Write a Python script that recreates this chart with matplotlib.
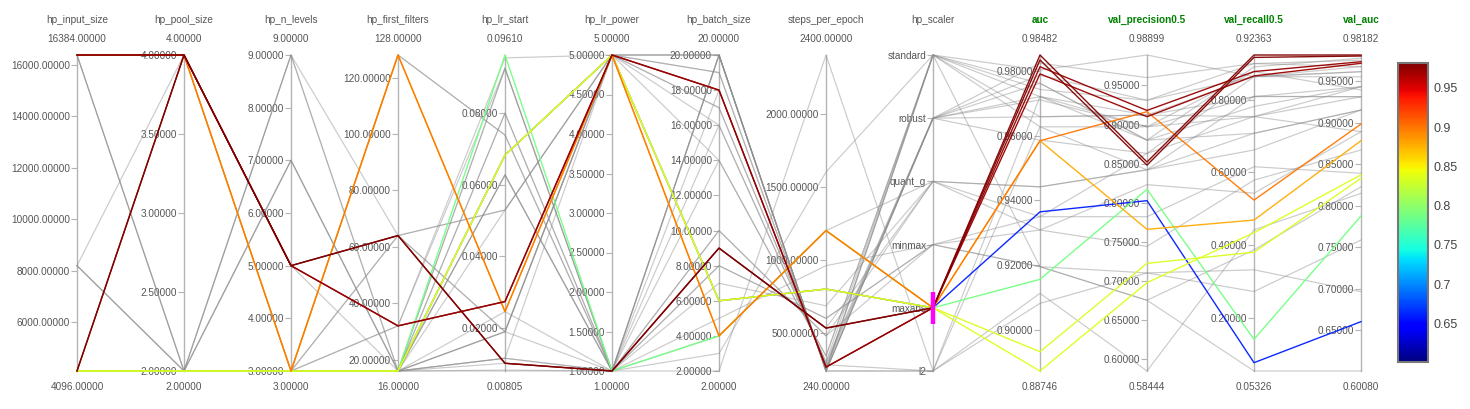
import numpy as np
import matplotlib.pyplot as plt
from matplotlib import cm, colors

plt.rcParams['font.family'] = ['Liberation Sans', 'DejaVu Sans']

# axis names (left to right) and which of them are metrics
dims = ['hp_input_size', 'hp_pool_size', 'hp_n_levels', 'hp_first_filters', 'hp_lr_start',
        'hp_lr_power', 'hp_batch_size', 'steps_per_epoch', 'hp_scaler',
        'auc', 'val_precision0.5', 'val_recall0.5', 'val_auc']
metric_names = ['auc', 'val_precision0.5', 'val_recall0.5', 'val_auc']
scaler_cats = ['standard', 'robust', 'quant_g', 'minmax', 'maxabs', 'l2']

# one entry per session; first 26 are filtered out (grey), last 10 use hp_scaler=maxabs
input_size = [16384, 16384, 8192, 8192, 8192, 4096, 4096, 4096, 4096, 4096,
              4096, 16384, 16384, 4096, 4096, 16384, 8192, 4096, 4096, 4096,
              4096, 4096, 4096, 4096, 4096, 4096,
              4096, 4096, 4096, 4096, 16384, 16384, 4096, 16384, 4096, 16384]
pool_size = [2, 2, 4, 2, 2, 2, 2, 2, 2, 2,
             2, 4, 4, 4, 2, 2, 2, 2, 2, 2,
             2, 2, 2, 2, 2, 2,
             2, 2, 2, 2, 4, 4, 4, 4, 4, 4]
n_levels = [9, 9, 5, 7, 7, 3, 3, 3, 3, 3,
            3, 3, 3, 5, 3, 9, 7, 3, 3, 3,
            3, 3, 3, 3, 3, 3,
            3, 3, 3, 3, 3, 3, 5, 5, 5, 5]
first_filters = [64, 16, 16, 16, 16, 64, 32, 16, 16, 16,
                 16, 128, 128, 64, 16, 16, 16, 64, 32, 16,
                 16, 16, 16, 16, 16, 16,
                 16, 16, 16, 16, 128, 128, 32, 32, 64, 64]
lr_start = [0.0190, 0.0924, 0.0190, 0.0799, 0.0116, 0.0529, 0.0924, 0.0627, 0.0190, 0.00805,
            0.0246, 0.0738, 0.0738, 0.0529, 0.0799, 0.0529, 0.0627, 0.0190, 0.0953, 0.0083,
            0.0102, 0.0116, 0.0627, 0.0924, 0.0190, 0.0116,
            0.0682, 0.09610, 0.0682, 0.0682, 0.0246, 0.0246, 0.0274, 0.0274, 0.0102, 0.0102]
lr_power = [5, 1, 1, 1, 1, 5, 1, 1, 5, 1,
            1, 1, 1, 5, 1, 5, 1, 5, 5, 1,
            1, 5, 1, 1, 5, 1,
            5, 1, 5, 5, 5, 5, 5, 5, 1, 1]
batch_size = [20, 14, 10, 20, 8, 19, 20, 3, 17, 2,
              5, 20, 16, 20, 7, 16, 4, 14, 20, 20,
              10, 19, 18, 9, 17, 8,
              6, 4, 6, 6, 4, 4, 18, 18, 9, 9]
steps_per_epoch = [240, 342.9, 480, 240, 600, 252.6, 240, 1600, 282.4, 2400,
                   960, 240, 300, 240, 685.7, 300, 1200, 342.9, 240, 240,
                   480, 252.6, 266.7, 533.3, 282.4, 600,
                   800, 1200, 800, 800, 1200, 1200, 266.7, 266.7, 533.3, 533.3]
scaler = ['standard', 'standard', 'quant_g', 'robust', 'minmax', 'standard', 'robust', 'standard',
          'robust', 'l2', 'minmax', 'robust', 'standard', 'l2', 'quant_g', 'robust', 'quant_g',
          'standard', 'robust', 'l2', 'minmax', 'standard', 'robust', 'quant_g', 'l2', 'minmax',
          'maxabs', 'maxabs', 'maxabs', 'maxabs', 'maxabs', 'maxabs', 'maxabs', 'maxabs',
          'maxabs', 'maxabs']
auc = [0.9742, 0.9720, 0.9442, 0.9761, 0.9309, 0.9658, 0.9823, 0.9196, 0.9710, 0.9083,
       0.9350, 0.9658, 0.9627, 0.9720, 0.9309, 0.9586, 0.9442, 0.9802, 0.9786, 0.9114,
       0.9196, 0.9761, 0.9720, 0.9350, 0.9627, 0.9196,
       0.9365, 0.9157, 0.88746, 0.8934, 0.9584, 0.9584, 0.9790, 0.9812, 0.9833, 0.98482]
val_precision = [0.931, 0.897, 0.842, 0.880, 0.744, 0.912, 0.960, 0.675, 0.897, 0.710,
                 0.782, 0.912, 0.897, 0.880, 0.823, 0.863, 0.842, 0.98899, 0.931, 0.58444,
                 0.710, 0.880, 0.912, 0.863, 0.842, 0.675,
                 0.8025, 0.8170, 0.6975, 0.7223, 0.7658, 0.9164, 0.910, 0.918, 0.848, 0.852]
val_recall = [0.864, 0.809, 0.662, 0.891, 0.579, 0.754, 0.900, 0.387, 0.878, 0.272,
              0.616, 0.809, 0.754, 0.708, 0.543, 0.864, 0.708, 0.864, 0.900, 0.442,
              0.332, 0.782, 0.864, 0.754, 0.810, 0.05326,
              0.0762, 0.1406, 0.4342, 0.3804, 0.469, 0.524, 0.866, 0.878, 0.917, 0.92363]
val_auc = [0.9617, 0.9436, 0.9155, 0.9780, 0.8673, 0.9315, 0.9678, 0.8230, 0.9396, 0.7588,
           0.8392, 0.9315, 0.9436, 0.9155, 0.8894, 0.9678, 0.9155, 0.9617, 0.9755, 0.8150,
           0.6964, 0.9436, 0.9555, 0.8894, 0.9315, 0.6008,
           0.6603, 0.7877, 0.8373, 0.8332, 0.8785, 0.8986, 0.9718, 0.9737, 0.9806, 0.98182]

# tick values shown on each axis
axis_ticks = [
    [6000, 8000, 10000, 12000, 14000, 16000],
    [2.0, 2.5, 3.0, 3.5, 4.0],
    [3, 4, 5, 6, 7, 8, 9],
    [20, 40, 60, 80, 100, 120],
    [0.02, 0.04, 0.06, 0.08],
    [1.0, 1.5, 2.0, 2.5, 3.0, 3.5, 4.0, 4.5, 5.0],
    [2, 4, 6, 8, 10, 12, 14, 16, 18, 20],
    [500, 1000, 1500, 2000],
    None,
    [0.90, 0.92, 0.94, 0.96, 0.98],
    [0.60, 0.65, 0.70, 0.75, 0.80, 0.85, 0.90, 0.95],
    [0.2, 0.4, 0.6, 0.8],
    [0.65, 0.70, 0.75, 0.80, 0.85, 0.90, 0.95],
]

scaler_idx = [scaler_cats.index(s) for s in scaler]
columns = [input_size, pool_size, n_levels, first_filters, lr_start, lr_power,
           batch_size, steps_per_epoch, scaler_idx, auc, val_precision, val_recall, val_auc]
cols = [np.array(c, dtype=float) for c in columns]
n_cat = len(scaler_cats) - 1

W, H = 1470, 409
fig = plt.figure(figsize=(W / 100, H / 100), dpi=100)
x0, dx = 77, 107
top, bot = 55, 371
axis_col = '#b4b4b4'
text_col = '#555555'
fs = 7.2

for i, name in enumerate(dims):
    xp = x0 + dx * i
    dax = fig.add_axes([xp / W, (H - bot) / H, 0.0001, (bot - top) / H])
    for s in ['top', 'right', 'bottom']:
        dax.spines[s].set_visible(False)
    dax.spines['left'].set_color(axis_col)
    dax.spines['left'].set_linewidth(1)
    dax.set_xticks([])
    dax.tick_params(axis='y', length=4, color=axis_col, labelsize=fs, labelcolor=text_col, pad=1)
    c = cols[i]
    if axis_ticks[i] is None:
        dax.set_ylim(n_cat, 0)
        dax.set_yticks(range(len(scaler_cats)))
        dax.set_yticklabels(scaler_cats)
    else:
        lo, hi = c.min(), c.max()
        dax.set_ylim(lo, hi)
        dax.set_yticks(axis_ticks[i])
        dax.set_yticklabels([f'{t:.5f}' for t in axis_ticks[i]])
        fig.text(xp / W, 1 - 39 / H, f'{hi:.5f}', ha='center', va='center', fontsize=fs, color=text_col)
        fig.text(xp / W, 1 - 387 / H, f'{lo:.5f}', ha='center', va='center', fontsize=fs, color=text_col)
    if name in metric_names:
        fig.text(xp / W, 1 - 20 / H, name, ha='center', va='center', fontsize=fs,
                 color='#008000', fontweight='bold')
    else:
        fig.text(xp / W, 1 - 20 / H, name, ha='center', va='center', fontsize=fs, color=text_col)

# lines live in one shared axes, every dimension scaled to 0..1
ax = fig.add_axes([x0 / W, (H - bot) / H, dx * 12 / W, (bot - top) / H])
ax.set_xlim(0, 12)
ax.set_ylim(0, 1)
ax.axis('off')
ax.patch.set_alpha(0)

norm_cols = []
for i, c in enumerate(cols):
    if axis_ticks[i] is None:
        norm_cols.append(1 - c / n_cat)
    else:
        norm_cols.append((c - c.min()) / (c.max() - c.min()))
Y = np.vstack(norm_cols).T
xs = np.arange(len(dims))

vauc = cols[-1]
cnorm = colors.Normalize(vmin=vauc.min(), vmax=vauc.max())
cmap = plt.get_cmap('jet')

sel = [k for k, s in enumerate(scaler) if s == 'maxabs']
rest = [k for k, s in enumerate(scaler) if s != 'maxabs']
for k in rest:
    ax.plot(xs, Y[k], color='#8c8c8c', lw=0.85, alpha=0.45, clip_on=False)
for k in sorted(sel, key=lambda k: vauc[k]):
    ax.plot(xs, Y[k], color=cmap(cnorm(vauc[k])), lw=1.0, alpha=0.95, clip_on=False)

# brush on hp_scaler = maxabs
yb = 1 - scaler_cats.index('maxabs') / n_cat
ax.plot([8, 8], [yb - 0.05, yb + 0.05], color='#ff00ff', lw=3.2, solid_capstyle='butt',
        clip_on=False, zorder=5)

cax = fig.add_axes([1398 / W, (H - 362) / H, 30 / W, 299 / H])
cb = fig.colorbar(cm.ScalarMappable(norm=cnorm, cmap=cmap), cax=cax)
cb.set_ticks([0.65, 0.70, 0.75, 0.80, 0.85, 0.90, 0.95])
cb.set_ticklabels(['0.65', '0.7', '0.75', '0.8', '0.85', '0.9', '0.95'])
cb.outline.set_edgecolor('#777777')
cb.outline.set_linewidth(1.5)
cax.tick_params(length=0, labelsize=9, labelcolor='#444444', pad=4)

plt.savefig('out.png', dpi=100)
